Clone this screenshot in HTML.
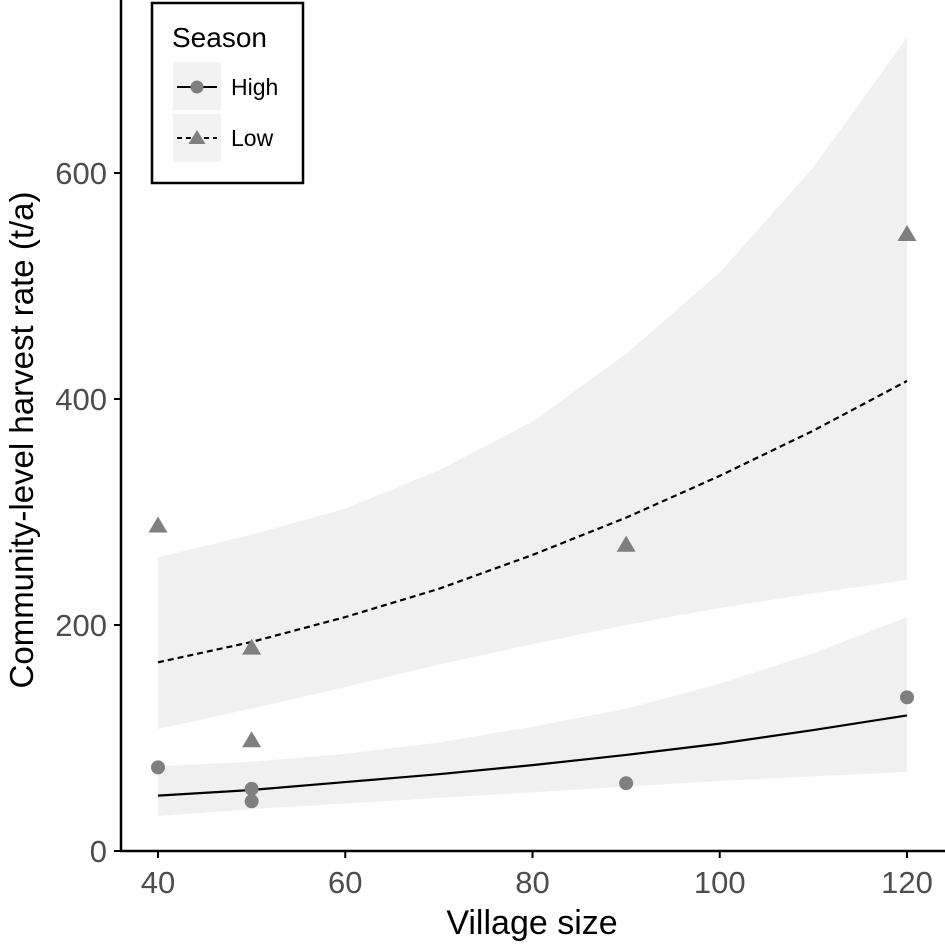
<!DOCTYPE html>
<html><head><meta charset="utf-8"><style>
html,body{margin:0;padding:0;background:#fff;}
svg{display:block;font-family:"Liberation Sans",Arial,sans-serif;}
</style></head><body>
<svg id="chart" width="945" height="944" viewBox="0 0 945 944">
<g id="ribbons"></g><g id="lines"></g><g id="points"></g><g id="axes"></g>
<g>
<rect x="152" y="3" width="151" height="180" fill="#fff" stroke="#000" stroke-width="2.5"/>
<text x="172" y="47" font-size="28" fill="#000">Season</text>
<rect x="173" y="62" width="48" height="48" fill="#f2f2f2"/>
<rect x="173" y="114" width="48" height="48" fill="#f2f2f2"/>
<line x1="177" y1="87" x2="217" y2="87" stroke="#000" stroke-width="2"/>
<circle cx="197" cy="87" r="6.5" fill="#7f7f7f"/>
<line x1="177" y1="138" x2="217" y2="138" stroke="#000" stroke-width="2" stroke-dasharray="5,4"/>
<polygon points="197,130 205.5,144 188.5,144" fill="#7f7f7f"/>
<text x="231" y="95" font-size="23" fill="#000">High</text>
<text x="231" y="146" font-size="23" fill="#000">Low</text>
</g>
</svg>
<script>
const xGrid=[40,50,60,70,80,90,100,110,120];
const lowFit=[167,185,207,232,262,295,332,372,416];
const lowUpper=[260,280,303,337,380,440,512,605,720];
const lowLower=[108,126,145,165,183,200,215,228,240];
const highFit=[49,54,61,68,76,85,95,107,120];
const highUpper=[75,79,86,96,110,126,148,175,207];
const highLower=[31,37,42,47,52,57,62,66,70];
const highX=[40,50,50,90,120];
const highY=[74,55,44,60,136];
const lowX=[40,50,50,90,120];
const lowY=[288,180,98,271,546];
const xTicks=[40,60,80,100,120];
const yTicks=[0,200,400,600];
const NS="http://www.w3.org/2000/svg";
const sx=v=>158+(v-40)*(907-158)/80;
const sy=v=>851-v*(851-173)/600;
function mk(tag,attrs,parent){const e=document.createElementNS(NS,tag);for(const k in attrs)e.setAttribute(k,attrs[k]);document.getElementById(parent).appendChild(e);return e;}
function ribbon(up,lo,name){
 let p=xGrid.map((x,i)=>sx(x)+","+sy(up[i])).join(" ")+" "+xGrid.map((x,i)=>sx(x)+","+sy(lo[i])).reverse().join(" ");
 const e=mk("polygon",{points:p,fill:"#f0f0f0"},"ribbons");
 
 
}
ribbon(lowUpper,lowLower,"low-confidence-band");
ribbon(highUpper,highLower,"high-confidence-band");
function line(vals,dash,name){
 const e=mk("polyline",{points:xGrid.map((x,i)=>sx(x)+","+sy(vals[i])).join(" "),fill:"none",stroke:"#000","stroke-width":2.2,"stroke-dasharray":dash},"lines");
 
 
}
line(lowFit,"6,4","low-fit-line");
line(highFit,"none","high-fit-line");
highX.forEach((x,i)=>{
 const e=mk("circle",{cx:sx(x),cy:sy(highY[i]),r:7,fill:"#7f7f7f"},"points");
 
 
});
lowX.forEach((x,i)=>{
 const cx=sx(x),cy=sy(lowY[i]);
 const e=mk("polygon",{points:`${cx},${cy-9} ${cx+9.5},${cy+7} ${cx-9.5},${cy+7}`,fill:"#7f7f7f"},"points");
 
 
});
let a=mk("line",{x1:121,y1:0,x2:121,y2:852,stroke:"#000","stroke-width":2.5},"axes");


a=mk("line",{x1:120,y1:851,x2:945,y2:851,stroke:"#000","stroke-width":2.5},"axes");


xTicks.forEach(t=>{
 mk("line",{x1:sx(t),y1:851,x2:sx(t),y2:858,stroke:"#000","stroke-width":2},"axes");
 const e=mk("text",{x:sx(t),y:893,"font-size":31,fill:"#4d4d4d","text-anchor":"middle"},"axes");
 e.textContent=t;
 
 
});
yTicks.forEach(t=>{
 mk("line",{x1:114,y1:sy(t),x2:121,y2:sy(t),stroke:"#000","stroke-width":2},"axes");
 const e=mk("text",{x:107,y:sy(t)+11,"font-size":31,fill:"#4d4d4d","text-anchor":"end"},"axes");
 e.textContent=t;
 
 
});
let e=mk("text",{x:532,y:934,"font-size":34,fill:"#000","text-anchor":"middle"},"axes");
e.textContent="Village size";


e=mk("text",{x:0,y:0,"font-size":33,fill:"#000","text-anchor":"middle",transform:"translate(33,440) rotate(-90)"},"axes");
e.textContent="Community-level harvest rate (t/a)";


</script>
</body></html>
